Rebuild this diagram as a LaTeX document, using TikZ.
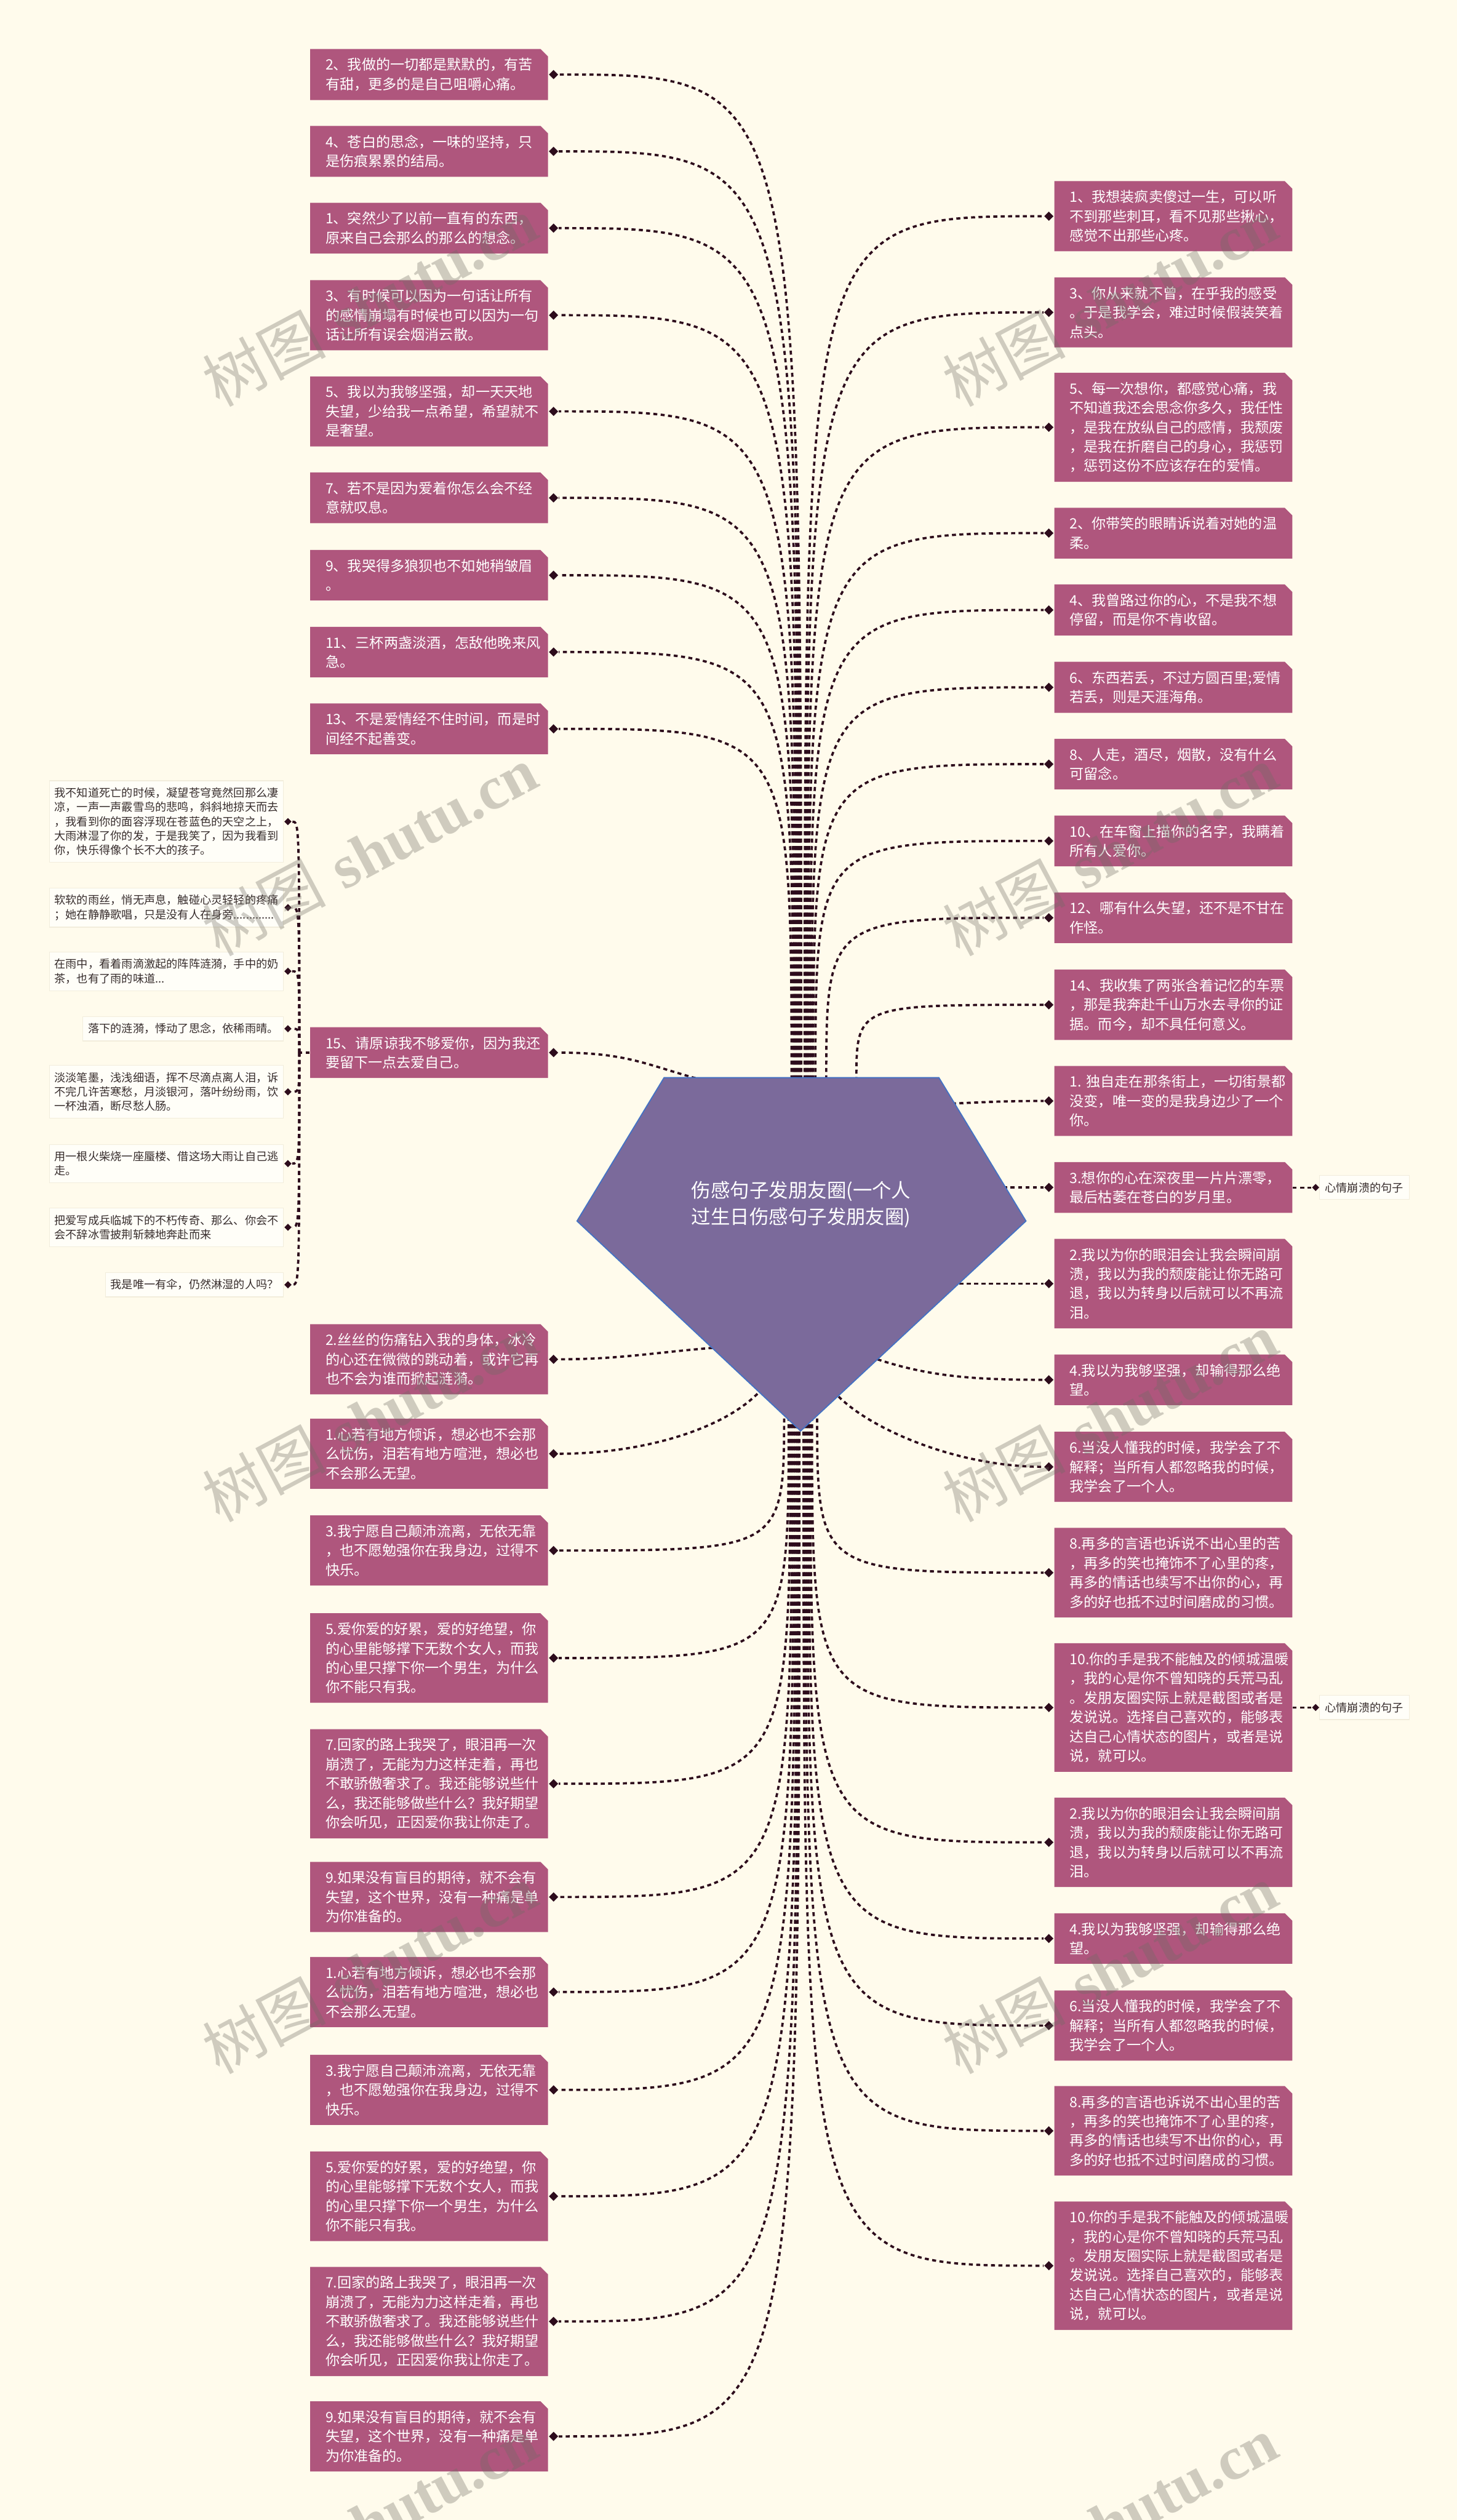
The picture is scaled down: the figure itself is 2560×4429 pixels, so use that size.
\documentclass[tikz,border=0pt]{standalone}
\usepackage{fontspec}
\newfontfamily\cjk{Noto Sans CJK SC}
\newfontfamily\wmserif{Liberation Serif}
\usetikzlibrary{shapes.geometric,calc}
\definecolor{bgcol}{RGB}{255,251,236}
\definecolor{boxcol}{RGB}{175,86,125}
\definecolor{conncol}{RGB}{45,12,28}
\definecolor{pentcol}{RGB}{123,106,155}
\definecolor{pentline}{RGB}{68,114,196}
\definecolor{notetext}{RGB}{55,45,45}
\definecolor{notefill}{RGB}{255,254,248}
\definecolor{noteline}{RGB}{242,237,220}
\definecolor{wmcol}{RGB}{110,108,98}

\newcommand\bcurve[2]{\draw[conn] (#1) .. controls (#1|-#2) .. (#2);}
\newcommand\lnode[3]{\node[leaf] (#1) at (754,#2) {#3};\node[dia] (d#1) at ([xshift=2.25pt]#1.east) {};}
\newcommand\rnode[3]{\node[leaf] (#1) at (2062,#2) {#3};\node[dia] (d#1) at ([xshift=-2.25pt]#1.west) {};}
\newcommand\bnode[3]{\node[note] (#1) at (499,#2) {#3};\node[sdia] (d#1) at ([xshift=1.75pt]#1.east) {};}

\newcommand\myxa{1.心若有地方倾诉，想必也不会那\\么忧伤，泪若有地方喧泄，想必也\\不会那么无望。}
\newcommand\myxb{3.我宁愿自己颠沛流离，无依无靠\\，也不愿勉强你在我身边，过得不\\快乐。}
\newcommand\myxc{5.爱你爱的好累，爱的好绝望，你\\的心里能够撑下无数个女人，而我\\的心里只撑下你一个男生，为什么\\你不能只有我。}
\newcommand\myxd{7.回家的路上我哭了，眼泪再一次\\崩溃了，无能为力这样走着，再也\\不敢骄傲奢求了。我还能够说些什\\么，我还能够做些什么？我好期望\\你会听见，正因爱你我让你走了。}
\newcommand\myxe{9.如果没有盲目的期待，就不会有\\失望，这个世界，没有一种痛是单\\为你准备的。}
\newcommand\myya{2.我以为你的眼泪会让我会瞬间崩\\溃，我以为我的颓废能让你无路可\\退，我以为转身以后就可以不再流\\泪。}
\newcommand\myyb{4.我以为我够坚强，却输得那么绝\\望。}
\newcommand\myyc{6.当没人懂我的时候，我学会了不\\解释；当所有人都忽略我的时候，\\我学会了一个人。}
\newcommand\myyd{8.再多的言语也诉说不出心里的苦\\，再多的笑也掩饰不了心里的疼，\\再多的情话也续写不出你的心，再\\多的好也抵不过时间磨成的习惯。}
\newcommand\myye{10.你的手是我不能触及的倾城温暖\\，我的心是你不曾知晓的兵荒马乱\\。发朋友圈实际上就是截图或者是\\发说说。选择自己喜欢的，能够表\\达自己心情状态的图片，或者是说\\说，就可以。}

\begin{document}
\begin{tikzpicture}[x=0.25pt,y=-0.25pt,
  leaf/.style={rectangle, fill=bgcol, inner xsep=6.75pt, inner ysep=4pt, text width=91pt, align=left, text=white,
    font=\cjk\fontsize{6.25}{8.5}\selectfont,
    path picture={\fill[boxcol] (path picture bounding box.south west) -- (path picture bounding box.north west)
      -- ([xshift=-3.3pt]path picture bounding box.north east) -- ([yshift=-3.3pt]path picture bounding box.north east)
      -- (path picture bounding box.south east) -- cycle;}},
  note/.style={rectangle, anchor=east, fill=notefill, draw=noteline, line width=0.3pt, inner xsep=2.25pt, inner ysep=3pt,
    align=left, text=notetext, font=\cjk\fontsize{4.92}{6.3}\selectfont},
  lab/.style={rectangle, anchor=west, fill=notefill, draw=noteline, line width=0.3pt, inner xsep=2.5pt, inner ysep=3pt,
    text=notetext, font=\cjk\fontsize{4.92}{6}\selectfont},
  dia/.style={diamond, fill=conncol, inner sep=0pt, minimum width=4.2pt, minimum height=4.2pt},
  sdia/.style={diamond, fill=conncol, inner sep=0pt, minimum width=3.3pt, minimum height=3.3pt},
  conn/.style={draw=conncol, line width=1pt, dash pattern=on 1.75pt off 1.5pt},
  wm/.style={text=wmcol, text opacity=0.33, rotate=28, font=\fontsize{27}{30}\selectfont},
]
\path[use as bounding box, fill=bgcol] (0,0) rectangle (2560,4429);

% ---------- left column ----------
\lnode{L1}{131}{2、我做的一切都是默默的，有苦\\有甜，更多的是自己咀嚼心痛。}
\lnode{L2}{266}{4、苍白的思念，一味的坚持，只\\是伤痕累累的结局。}
\lnode{L3}{401}{1、突然少了以前一直有的东西，\\原来自己会那么的那么的想念。}
\lnode{L4}{554}{3、有时候可以因为一句话让所有\\的感情崩塌有时候也可以因为一句\\话让所有误会烟消云散。}
\lnode{L5}{723}{5、我以为我够坚强，却一天天地\\失望，少给我一点希望，希望就不\\是奢望。}
\lnode{L6}{875}{7、若不是因为爱着你怎么会不经\\意就叹息。}
\lnode{L7}{1011}{9、我哭得多狼狈也不如她稍皱眉\\。}
\lnode{L8}{1146}{11、三杯两盏淡酒，怎敌他晚来风\\急。}
\lnode{L9}{1281}{13、不是爱情经不住时间，而是时\\间经不起善变。}
\lnode{L10}{1850}{15、请原谅我不够爱你，因为我还\\要留下一点去爱自己。}
\lnode{L11}{2389}{2.丝丝的伤痛钻入我的身体，冰冷\\的心还在微微的跳动着，或许它再\\也不会为谁而掀起涟漪。}
\lnode{L12}{2555}{\myxa}
\lnode{L13}{2725}{\myxb}
\lnode{L14}{2914}{\myxc}
\lnode{L15}{3135}{\myxd}
\lnode{L16}{3334}{\myxe}
\lnode{L17}{3501}{\myxa}
\lnode{L18}{3673}{\myxb}
\lnode{L19}{3860}{\myxc}
\lnode{L20}{4080}{\myxd}
\lnode{L21}{4282}{\myxe}

% ---------- right column ----------
\rnode{R1}{380}{1、我想装疯卖傻过一生，可以听\\不到那些刺耳，看不见那些揪心，\\感觉不出那些心疼。}
\rnode{R2}{549}{3、你从来就不曾，在乎我的感受\\。于是我学会，难过时候假装笑着\\点头。}
\rnode{R3}{751}{5、每一次想你，都感觉心痛，我\\不知道我还会思念你多久，我任性\\，是我在放纵自己的感情，我颓废\\，是我在折磨自己的身心，我惩罚\\，惩罚这份不应该存在的爱情。}
\rnode{R4}{937}{2、你带笑的眼睛诉说着对她的温\\柔。}
\rnode{R5}{1072}{4、我曾路过你的心，不是我不想\\停留，而是你不肯收留。}
\rnode{R6}{1208}{6、东西若丢，不过方圆百里;爱情\\若丢，则是天涯海角。}
\rnode{R7}{1343}{8、人走，酒尽，烟散，没有什么\\可留念。}
\rnode{R8}{1478}{10、在车窗上描你的名字，我瞒着\\所有人爱你。}
\rnode{R9}{1613}{12、哪有什么失望，还不是不甘在\\作怪。}
\rnode{R10}{1766}{14、我收集了两张含着记忆的车票\\，那是我奔赴千山万水去寻你的证\\据。而今，却不具任何意义。}
\rnode{R11}{1935}{1.~独自走在那条街上，一切街景都\\没变，唯一变的是我身边少了一个\\你。}
\rnode{R12}{2087}{3.想你的心在深夜里一片片漂零，\\最后枯萎在苍白的岁月里。}
\rnode{R13}{2256}{\myya}
\rnode{R14}{2425}{\myyb}
\rnode{R15}{2578}{\myyc}
\rnode{R16}{2764}{\myyd}
\rnode{R17}{3001}{\myye}
\rnode{R18}{3238}{\myya}
\rnode{R19}{3407}{\myyb}
\rnode{R20}{3560}{\myyc}
\rnode{R21}{3745}{\myyd}
\rnode{R22}{3982}{\myye}

% ---------- far-left notes ----------
\bnode{B1}{1444}{我不知道死亡的时候，凝望苍穹竟然回那么凄\\凉，一声一声霰雪鸟的悲鸣，斜斜地掠天而去\\，我看到你的面容浮现在苍蓝色的天空之上，\\大雨淋湿了你的发，于是我笑了，因为我看到\\你，快乐得像个长不大的孩子。}
\bnode{B2}{1595}{软软的雨丝，悄无声息，触碰心灵轻轻的疼痛\\；她在静静歌唱，只是没有人在身旁.............}
\bnode{B3}{1707}{在雨中，看着雨滴激起的阵阵涟漪，手中的奶\\茶，也有了雨的味道...}
\bnode{B4}{1808}{落下的涟漪，悸动了思念，依稀雨晴。}
\bnode{B5}{1919}{淡淡笔墨，浅浅细语，挥不尽滴点离人泪，诉\\不完几许苦寒愁，月淡银河，落叶纷纷雨，饮\\一杯浊酒，断尽愁人肠。}
\bnode{B6}{2045}{用一根火柴烧一座蜃楼、借这场大雨让自己逃\\走。}
\bnode{B7}{2157}{把爱写成兵临城下的不朽传奇、那么、你会不\\会不辞冰雪披荆斩棘地奔赴而来}
\bnode{B8}{2258}{我是唯一有伞，仍然淋湿的人吗？}

% ---------- side labels ----------
\node[lab] (X1) at (2318,2087) {心情崩溃的句子};
\node[sdia] (dX1) at ([xshift=-1.5pt]X1.west) {};
\node[lab] (X2) at (2318,3001) {心情崩溃的句子};
\node[sdia] (dX2) at ([xshift=-1.5pt]X2.west) {};
\draw[conn, line width=0.8pt] (R12.east) -- (dX1.west);
\draw[conn, line width=0.8pt] (R17.east) -- (dX2.west);

% ---------- connectors ----------
\foreach \i/\x in {1/1408,2/1406,3/1404,4/1402,5/1400,6/1398,7/1396,8/1394,9/1391}{\coordinate (sL\i) at (\x,1910);}
\foreach \i in {1,...,9}{\bcurve{sL\i}{dL\i.east}}
\foreach \i/\x in {1/1414,2/1416,3/1418,4/1420,5/1423,6/1426,7/1429,8/1433,9/1452}{\coordinate (sR\i) at (\x,1910);}
\coordinate (sR10) at (1505,1900);
\foreach \i in {1,...,10}{\bcurve{sR\i}{dR\i.west}}

\coordinate (sL10) at (1260,1905);
\draw[conn] (sL10) .. controls +(-120,-30) and +(130,0) .. (dL10.east);
\coordinate (sL11) at (1265,2368);
\draw[conn] (sL11) .. controls +(-110,8) and +(110,0) .. (dL11.east);
\coordinate (sL12) at (1340,2440);
\draw[conn] (sL12) .. controls +(-60,70) and +(150,0) .. (dL12.east);
\coordinate (sL13) at (1378,2480);
\bcurve{sL13}{dL13.east}
\foreach \i/\x in {14/1386,15/1389,16/1392,17/1395,18/1398,19/1401,20/1403,21/1405}{\coordinate (sL\i) at (\x,2490);}
\foreach \i in {14,...,21}{\bcurve{sL\i}{dL\i.east}}

\coordinate (sR11) at (1660,1940);
\draw[conn] (sR11) .. controls +(80,-3) and +(-80,0) .. (dR11.west);
\coordinate (sR12) at (1750,2087);
\draw[conn] (sR12) -- (dR12.west);
\coordinate (sR13) at (1660,2256);
\draw[conn] (sR13) -- (dR13.west);
\coordinate (sR14) at (1530,2385);
\draw[conn] (sR14) .. controls +(100,35) and +(-120,0) .. (dR14.west);
\coordinate (sR15) at (1465,2445);
\draw[conn] (sR15) .. controls +(50,60) and +(-160,0) .. (dR15.west);
\coordinate (sR16) at (1436,2480);
\bcurve{sR16}{dR16.west}
\foreach \i/\x in {17/1427,18/1424,19/1421,20/1418,21/1415,22/1412}{\coordinate (sR\i) at (\x,2490);}
\foreach \i in {17,...,22}{\bcurve{sR\i}{dR\i.west}}

\coordinate (sp) at (526,1850);
\draw[conn] (L10.west) -- (sp);
\foreach \i in {1,...,8}{\bcurve{sp}{dB\i.east}}

% ---------- central topic ----------
\path[fill=pentcol, draw=pentline, line width=0.5pt] (1167,1894) -- (1650,1894) -- (1803,2146) -- (1407,2515) -- (1014,2146) -- cycle;
\node[text=white, align=center, font=\cjk\fontsize{8.5}{11.5}\selectfont] (root) at (1408,2117) {伤感句子发朋友圈(一个人\\过生日伤感句子发朋友圈)};

% ---------- watermark ----------
\foreach \wx in {650,1950}{\foreach \wy in {530,1495,2490,3460,4430}{
  \node[wm] (wm\wx\wy) at (\wx,\wy) {{\cjk 树图} {\wmserif\bfseries shutu.cn}};}}
\end{tikzpicture}
\end{document}
